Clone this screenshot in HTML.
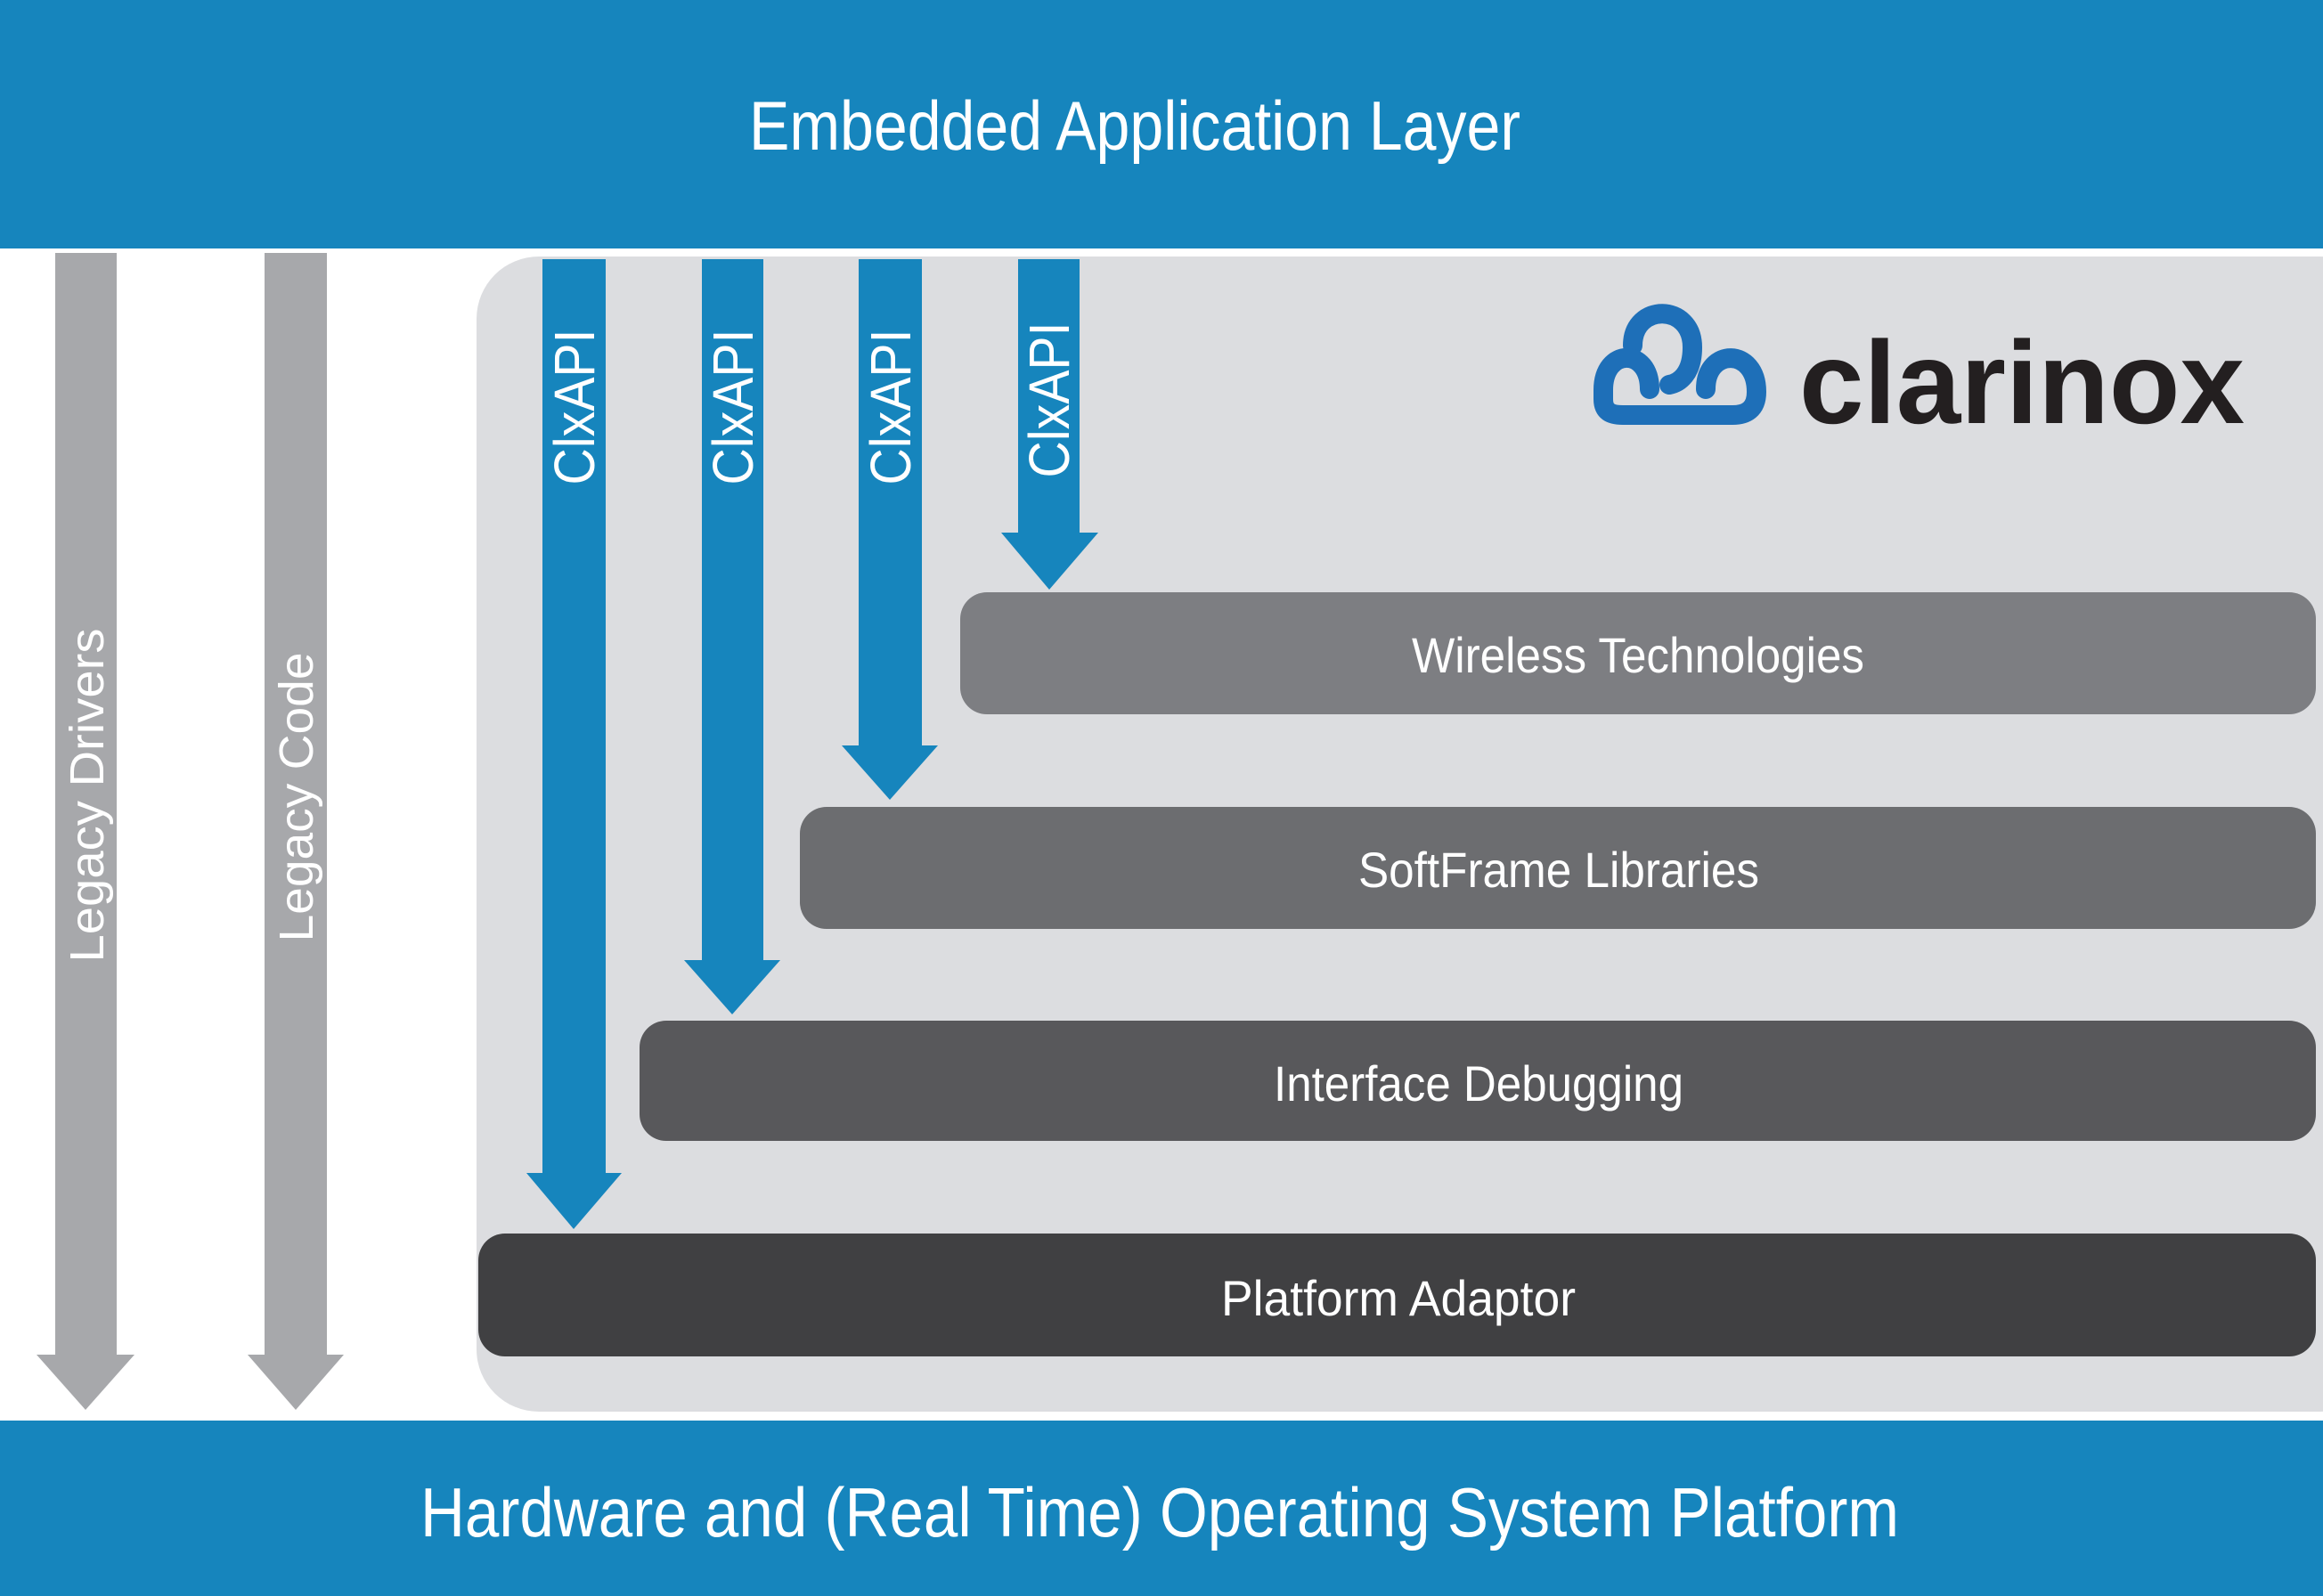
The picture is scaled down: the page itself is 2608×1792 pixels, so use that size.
<!DOCTYPE html>
<html><head><meta charset="utf-8"><style>
html,body{margin:0;padding:0;background:#fff}
svg{display:block}
text{font-family:"Liberation Sans",sans-serif}
</style></head><body>
<svg width="2608" height="1792" viewBox="0 0 2608 1792" xmlns="http://www.w3.org/2000/svg">
<rect x="0" y="0" width="2608" height="1792" fill="#ffffff"/>
<rect x="0" y="0" width="2608" height="279" fill="#1685bd"/>
<text x="1274" y="168" font-size="78" fill="#fff" text-anchor="middle" textLength="866" lengthAdjust="spacingAndGlyphs">Embedded Application Layer</text>
<rect x="0" y="1595" width="2608" height="197" fill="#1685bd"/>
<text x="1302" y="1725" font-size="78" fill="#fff" text-anchor="middle" textLength="1660" lengthAdjust="spacingAndGlyphs">Hardware and (Real Time) Operating System Platform</text>

<rect x="535" y="288" width="2140" height="1297" rx="70" fill="#dcdde0"/>

<rect x="62" y="284" width="69" height="1237" fill="#a7a8ab"/>
<polygon points="41,1521 151,1521 96,1583" fill="#a7a8ab"/>
<rect x="297" y="284" width="70" height="1237" fill="#a7a8ab"/>
<polygon points="278,1521 386,1521 332,1583" fill="#a7a8ab"/>
<text transform="translate(116,893) rotate(-90)" font-size="54" fill="#fff" text-anchor="middle" textLength="375" lengthAdjust="spacingAndGlyphs">Legacy Drivers</text>
<text transform="translate(351,895) rotate(-90)" font-size="54" fill="#fff" text-anchor="middle" textLength="325" lengthAdjust="spacingAndGlyphs">Legacy Code</text>

<rect x="1078" y="665" width="1522" height="137" rx="30" fill="#7d7e82"/>
<rect x="898" y="906" width="1702" height="137" rx="30" fill="#6c6d70"/>
<rect x="718" y="1146" width="1882" height="135" rx="30" fill="#58585b"/>
<rect x="537" y="1385" width="2063" height="138" rx="30" fill="#404042"/>
<text x="1839" y="755" font-size="56" fill="#fff" text-anchor="middle" textLength="508" lengthAdjust="spacingAndGlyphs">Wireless Technologies</text>
<text x="1750" y="996" font-size="56" fill="#fff" text-anchor="middle" textLength="450" lengthAdjust="spacingAndGlyphs">SoftFrame Libraries</text>
<text x="1660" y="1236" font-size="56" fill="#fff" text-anchor="middle" textLength="460" lengthAdjust="spacingAndGlyphs">Interface Debugging</text>
<text x="1570" y="1477" font-size="56" fill="#fff" text-anchor="middle" textLength="398" lengthAdjust="spacingAndGlyphs">Platform Adaptor</text>

<g fill="#1685bd">
<rect x="609" y="291" width="71" height="1027"/>
<polygon points="591,1317 698,1317 644,1380"/>
<rect x="788" y="291" width="69" height="788"/>
<polygon points="768,1078 876,1078 822,1139"/>
<rect x="964" y="291" width="71" height="547"/>
<polygon points="945,837 1053,837 999,898"/>
<rect x="1143" y="291" width="69" height="308"/>
<polygon points="1124,598 1233,598 1178,662"/>
</g>
<g fill="#fff" font-size="64" text-anchor="middle">
<text transform="translate(667,457) rotate(-90)" textLength="175" lengthAdjust="spacingAndGlyphs">ClxAPI</text>
<text transform="translate(845,457) rotate(-90)" textLength="175" lengthAdjust="spacingAndGlyphs">ClxAPI</text>
<text transform="translate(1022,457) rotate(-90)" textLength="175" lengthAdjust="spacingAndGlyphs">ClxAPI</text>
<text transform="translate(1200,449) rotate(-90)" textLength="175" lengthAdjust="spacingAndGlyphs">ClxAPI</text>
</g>

<g fill="none" stroke="#1e6fb8" stroke-width="22" stroke-linecap="round">
<path d="M1833 388 C1833 340 1900 340 1900 390 C1900 420 1885 430 1874 432"/>
<path d="M1852 437 C1852 390 1800 390 1800 438 L1800 448 C1800 462 1808 466 1822 466 L1945 466 C1960 466 1972 460 1972 440 C1972 390 1915 390 1915 437"/>
</g>
<text x="2020" y="475" font-size="132" font-weight="bold" fill="#231f20" textLength="500" lengthAdjust="spacingAndGlyphs">clarinox</text>
</svg>
</body></html>
